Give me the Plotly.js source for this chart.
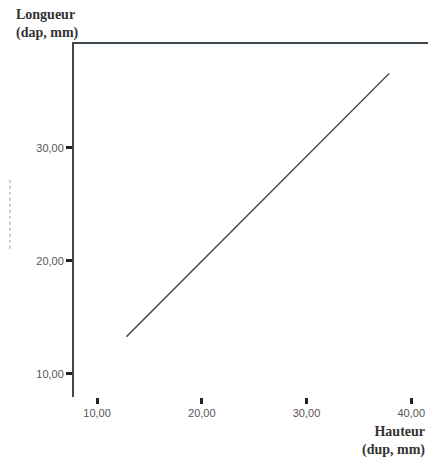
<!DOCTYPE html>
<html>
<head>
<meta charset="utf-8">
<script src="https://cdn.plot.ly/plotly-3.0.1.min.js"></script>
<style>html,body{margin:0;padding:0;background:#fff;}#chart{width:430px;height:465px;}</style>
</head>
<body>
<div id="chart"></div>
<script>
// Data
var hauteur = [12.8, 37.9];      // x: Hauteur (dup, mm)
var longueur = [13.3, 36.6];     // y: Longueur (dap, mm)
var xTicks = [10, 20, 30, 40];
var yTicks = [10, 20, 30];

var trace = {
  x: hauteur, y: longueur, type: 'scatter', mode: 'lines',
  line: {color: '#3a3a3a', width: 1.4}, hoverinfo: 'none', showlegend: false
};
var topAxisTrace = {x: [], y: [], xaxis: 'x2', yaxis: 'y', showlegend: false, hoverinfo: 'none'};

var tickFont = {family: 'Liberation Sans', size: 11, color: '#555'};
var titleFont = {family: 'Liberation Serif', size: 14, color: '#333'};

var layout = {
  width: 430, height: 465,
  margin: {l: 74, r: 2, t: 44, b: 68},
  paper_bgcolor: '#fff', plot_bgcolor: '#fff',
  separators: ', ',
  xaxis: {
    range: [7.8, 41.6], tickvals: xTicks, tickformat: '.2f',
    showgrid: false, zeroline: false, showline: false,
    ticks: 'outside', ticklen: 6, tickwidth: 3, tickcolor: '#222',
    tickfont: tickFont, fixedrange: true
  },
  xaxis2: {
    range: [7.8, 41.6], overlaying: 'x', side: 'top',
    showgrid: false, zeroline: false, showline: true, linecolor: '#3d4850', linewidth: 2,
    showticklabels: false, ticks: '', fixedrange: true
  },
  yaxis: {
    range: [7.96, 39.2], tickvals: yTicks, tickformat: '.2f',
    showgrid: false, zeroline: false, showline: true, linecolor: '#3d4850', linewidth: 2,
    ticks: 'outside', ticklen: 6, tickwidth: 3, tickcolor: '#222',
    tickfont: tickFont, fixedrange: true
  },
  shapes: [{
    type: 'line', xref: 'paper', yref: 'paper', x0: -0.181, x1: -0.181, y0: 0.42, y1: 0.615,
    line: {color: '#999', width: 1, dash: 'dot'}
  }],
  annotations: [
    {text: '<b>Longueur</b><br><b>(dap, mm)</b>', xref: 'paper', yref: 'paper',
     x: -0.169, y: 1.0, xanchor: 'left', yanchor: 'bottom', align: 'left', showarrow: false,
     yshift: 1, font: titleFont},
    {text: '<b>Hauteur</b><br><b>(dup, mm)</b>', xref: 'paper', yref: 'paper',
     x: 0.997, y: -0.07, xanchor: 'right', yanchor: 'top', align: 'right', showarrow: false,
     font: titleFont}
  ]
};

Plotly.newPlot('chart', [trace, topAxisTrace], layout, {displayModeBar: false, staticPlot: true});
</script>
</body>
</html>
